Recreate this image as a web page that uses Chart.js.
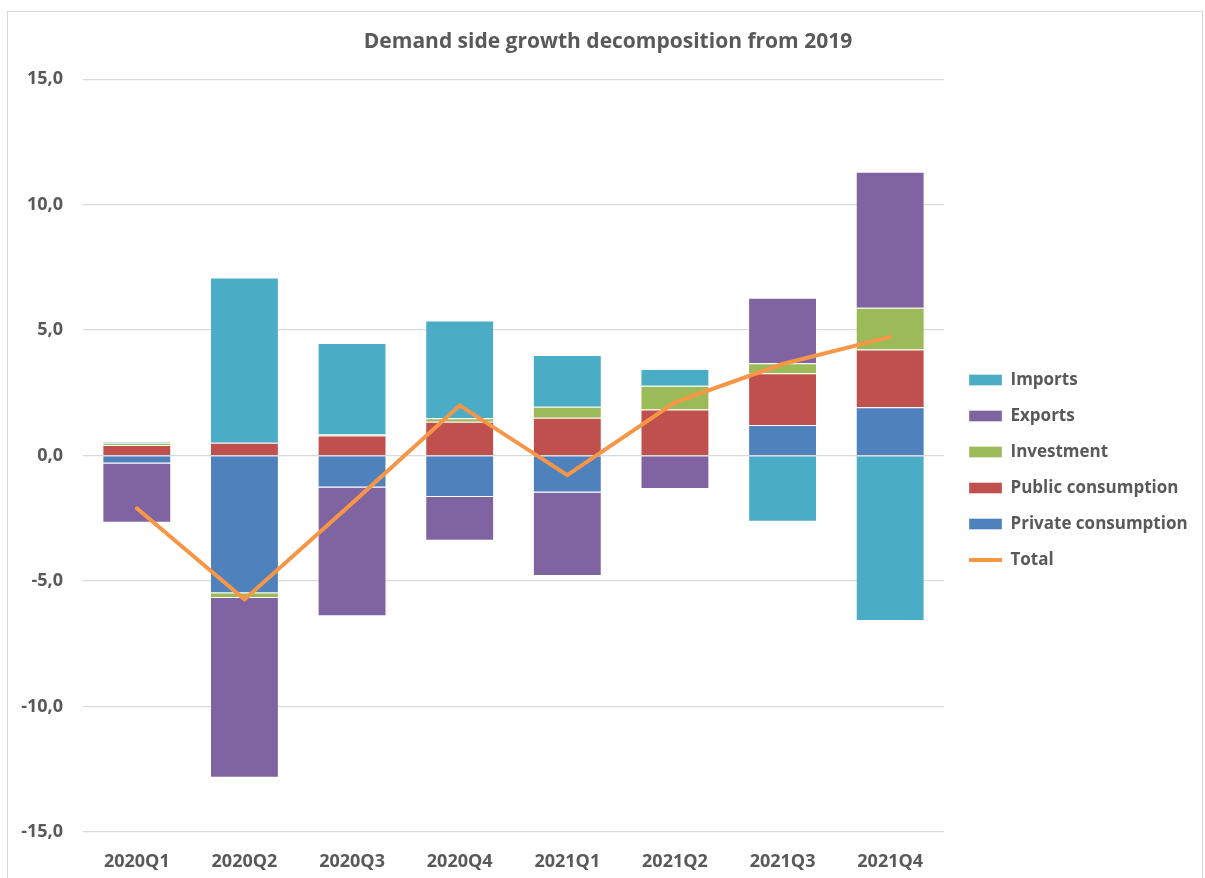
<!DOCTYPE html>
<html>
<head>
<meta charset="utf-8">
<script src="https://cdn.jsdelivr.net/npm/chart.js@4.4.1/dist/chart.umd.min.js"></script>
<style>
  html, body { margin: 0; padding: 0; background: #fff; overflow: hidden; width: 1205px; height: 878px; position: relative; }
  #frame { position: absolute; left: 7px; top: 11px; width: 1194px; height: 900px; border: 1px solid #d9d9d9; pointer-events: none; }
  #chart { position: absolute; top: 0; }
</style>
</head>
<body>
<canvas id="chart"></canvas>
<div id="frame"></div>
<script>
/* Chart data */
var quarters = ['2020Q1', '2020Q2', '2020Q3', '2020Q4', '2021Q1', '2021Q2', '2021Q3', '2021Q4'];
var privateConsumption = [-0.31, -5.49, -1.27, -1.65, -1.47, 0.0, 1.22, 1.93];
var publicConsumption = [0.42, 0.51, 0.80, 1.35, 1.51, 1.84, 2.06, 2.30];
var investment = [0.09, -0.18, 0.04, 0.14, 0.44, 0.94, 0.40, 1.66];
var exportsData = [-2.37, -7.17, -5.13, -1.74, -3.33, -1.33, 2.61, 5.42];
var importsData = [0.05, 6.59, 3.65, 3.89, 2.06, 0.67, -2.64, -6.59];
var total = [-2.1, -5.73, -1.9, 2.0, -0.78, 2.12, 3.65, 4.73];
var yTicks = [-15, -10, -5, 0, 5, 10, 15];
var legendOrder = ['Imports', 'Exports', 'Investment', 'Public consumption', 'Private consumption', 'Total'];

var FONT = '"Open Sans", "DejaVu Sans", sans-serif';
var TEXT = '#595959';
var GRID = '#d9d9d9';
var LEGEND_SIZE = 17;
var LEGEND_PAD = 19;

/* work out legend width; pad it on the right so the title stays centred
   while the canvas starts left of the page (no clipped y labels) */
var mctx = document.createElement('canvas').getContext('2d');
mctx.font = 'bold ' + LEGEND_SIZE + 'px ' + FONT;
var maxText = 0;
legendOrder.forEach(function (t) { maxText = Math.max(maxText, mctx.measureText(t).width); });
var legendW = LEGEND_PAD + 33 + LEGEND_SIZE / 2 + maxText + 10;
var extraW = Math.max(0, 286 - legendW);
var legendFull = legendW + extraW;
var shift = Math.round(legendFull - 266);
var rightEdge = 950 + shift + legendFull;

var canvas = document.getElementById('chart');
canvas.width = Math.ceil(rightEdge) + 2;
canvas.height = 940;
canvas.style.width = canvas.width + 'px';
canvas.style.height = '940px';
canvas.style.left = (-shift) + 'px';

var legendPad = {
    id: 'legendPad',
    beforeLayout: function (chart) {
        var lg = chart.legend;
        if (lg && !lg._padded) {
            var fit = lg.fit;
            lg.fit = function () { fit.call(this); this.width += extraW; };
            lg._padded = true;
        }
    }
};

function bar(label, data, color) {
    return {
        type: 'bar',
        label: label,
        data: data,
        backgroundColor: color,
        borderColor: 'rgba(255,255,255,0.35)',
        borderWidth: 1,
        pointStyle: 'rect',
        stack: 'parts',
        categoryPercentage: 0.8,
        barPercentage: 0.8
    };
}

var ctx = canvas.getContext('2d');
var chart = new Chart(ctx, {
    data: {
        labels: quarters,
        datasets: [
            bar('Private consumption', privateConsumption, '#4F81BD'),
            bar('Public consumption', publicConsumption, '#C0504D'),
            bar('Investment', investment, '#9BBB59'),
            bar('Exports', exportsData, '#8064A2'),
            bar('Imports', importsData, '#4BACC6'),
            {
                type: 'line',
                label: 'Total',
                data: total,
                borderColor: '#F79646',
                backgroundColor: '#F79646',
                borderWidth: 4,
                borderCapStyle: 'round',
                borderJoinStyle: 'miter',
                pointRadius: 0,
                pointStyle: 'line',
                tension: 0,
                stack: 'total',
                order: -1
            }
        ]
    },
    plugins: [legendPad],
    options: {
        responsive: false,
        animation: false,
        layout: { padding: { left: 0, right: 2, top: 0, bottom: 0 } },
        plugins: {
            title: {
                display: true,
                text: 'Demand side growth decomposition from 2019',
                color: TEXT,
                font: { family: FONT, size: 21, weight: 'bold', lineHeight: 1.2 },
                padding: { top: 29, bottom: 25 }
            },
            legend: {
                position: 'right',
                align: 'center',
                maxWidth: 400,
                labels: {
                    usePointStyle: true,
                    pointStyleWidth: 33,
                    boxHeight: 11,
                    padding: LEGEND_PAD,
                    color: TEXT,
                    font: { family: FONT, size: LEGEND_SIZE, weight: 'bold' },
                    sort: function (a, b) {
                        return legendOrder.indexOf(a.text) - legendOrder.indexOf(b.text);
                    }
                }
            },
            tooltip: { enabled: false }
        },
        scales: {
            x: {
                stacked: true,
                grid: { display: false },
                border: { display: false },
                ticks: {
                    color: TEXT,
                    padding: 11,
                    font: { family: FONT, size: 18, weight: 'bold' }
                },
                afterFit: function (s) { s.height = 108; }
            },
            y: {
                stacked: true,
                min: -15,
                max: 15,
                afterBuildTicks: function (s) {
                    s.ticks = yTicks.map(function (v) { return { value: v }; });
                },
                grid: { color: GRID, lineWidth: 1.3, drawTicks: false },
                border: { display: false },
                ticks: {
                    color: TEXT,
                    padding: 20,
                    font: { family: FONT, size: 18, weight: 'bold' },
                    callback: function (v) { return Number(v).toFixed(1).replace('.', ','); }
                },
                afterFit: function (s) { s.width = 83 + shift; }
            },
            yR: {
                position: 'right',
                display: true,
                grid: { display: false },
                border: { display: false },
                ticks: { display: false },
                afterFit: function (s) { s.width = 6; }
            }
        }
    }
});
</script>
</body>
</html>
